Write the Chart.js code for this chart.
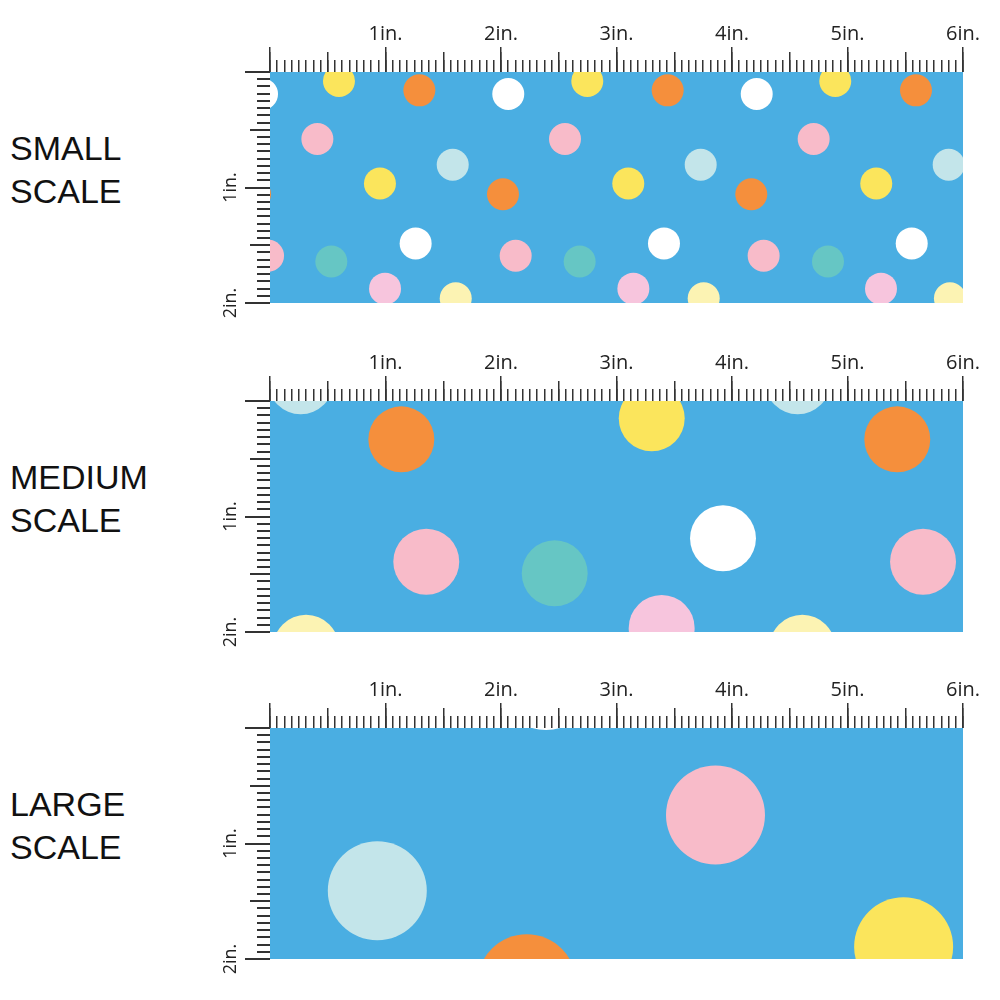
<!DOCTYPE html>
<html>
<head>
<meta charset="utf-8">
<script src="https://cdn.jsdelivr.net/npm/chart.js@4"></script>
<style>
  body { margin: 0; background: #fff; width: 1000px; height: 1000px; position: relative; overflow: hidden; }
  .panel { position: absolute; left: 0; width: 1000px; height: 320px; }
  .name { position: absolute; left: 10px; font-family: "Liberation Sans", Arial, sans-serif; font-size: 34px; line-height: 43px; color: #111; }
</style>
</head>
<body>
<div class="name" style="top:127px">SMALL<br>SCALE</div>
<div class="name" style="top:456px">MEDIUM<br>SCALE</div>
<div class="name" style="top:783px">LARGE<br>SCALE</div>
<div class="panel" style="top:0px"><canvas id="small" width="1000" height="320"></canvas></div>
<div class="panel" style="top:329px"><canvas id="medium" width="1000" height="320"></canvas></div>
<div class="panel" style="top:656px"><canvas id="large" width="1000" height="320"></canvas></div>
<script>
// ruler labels
const topLabels = ['', '1in.', '2in.', '3in.', '4in.', '5in.', '6in.'];
const sideLabels = ['', '1in.', '2in.'];

// dot positions in inches (x across, y down)
const smallX = [-0.069, 2.063, 4.214, 0.597, 2.747, 4.894, 1.293, 3.443, 5.593,
  0.410, 2.554, 4.707, 1.582, 3.729, 5.876, 0.952, 3.102, 5.249,
  -0.130, 2.017, 4.167, 1.261, 3.411, 5.556, -0.017, 2.127, 4.274,
  0.531, 2.681, 4.831, 0.996, 3.146, 5.290, 1.608, 3.755, 5.887];
const smallY = [0.191, 0.191, 0.191, 0.078, 0.078, 0.078, 0.159, 0.159, 0.159,
  0.580, 0.580, 0.580, 0.803, 0.803, 0.803, 0.965, 0.965, 0.965,
  1.058, 1.058, 1.058, 1.484, 1.484, 1.484, 1.591, 1.591, 1.591,
  1.641, 1.641, 1.641, 1.876, 1.876, 1.876, 1.959, 1.959, 1.959];
const smallColor = ['white', 'white', 'white', 'yellow', 'yellow', 'yellow', 'orange', 'orange', 'orange',
  'pink', 'pink', 'pink', 'lightBlue', 'lightBlue', 'lightBlue', 'yellow', 'yellow', 'yellow',
  'orange', 'orange', 'orange', 'white', 'white', 'white', 'pink', 'pink', 'pink',
  'teal', 'teal', 'teal', 'lightPink', 'lightPink', 'lightPink', 'paleYellow', 'paleYellow', 'paleYellow'];

const mediumX = [0.266, 4.569, 1.137, 5.431, 3.305, 3.922, 1.353, 5.654, 2.465, 3.391, 0.312, 4.609];
const mediumY = [-0.171, -0.171, 0.332, 0.332, 0.150, 1.189, 1.391, 1.391, 1.492, 1.965, 2.136, 2.136];
const mediumColor = ['lightBlue', 'lightBlue', 'orange', 'orange', 'yellow', 'white', 'pink', 'pink', 'teal', 'lightPink', 'paleYellow', 'paleYellow'];

const largeX = [2.390, 3.857, 0.929, 5.486, 2.223];
const largeY = [-0.411, 0.753, 1.409, 1.894, 2.215];
const largeColor = ['white', 'pink', 'lightBlue', 'yellow', 'orange'];

const palette = {
  white: '#ffffff', yellow: '#fbe55c', orange: '#f58f3c', pink: '#f8bbc9',
  lightBlue: '#c3e5ea', teal: '#66c6c4', lightPink: '#f7c5dd', paleYellow: '#fcf3b3'
};
const fabricBlue = '#4aaee2';
const tickColor = '#333';

const fabric = {
  id: 'fabric',
  beforeDraw(chart) {
    const a = chart.chartArea, c = chart.ctx;
    c.save();
    c.fillStyle = fabricBlue;
    c.fillRect(a.left, a.top, a.right - a.left, a.bottom - a.top);
    c.restore();
  }
};

function ruler(horizontal, step, len, weight, size, labels) {
  const s = {
    type: 'linear',
    position: horizontal ? 'top' : 'left',
    min: 0,
    max: horizontal ? 6 : 2,
    reverse: !horizontal,
    weight: weight,
    border: { display: false },
    grid: { drawOnChartArea: false, tickLength: len, color: tickColor, lineWidth: horizontal ? 1.5 : 2 },
    ticks: { stepSize: step, autoSkip: false, display: false },
    afterFit(sc) {
      if (horizontal) sc.height = size; else sc.width = size;
      sc.paddingLeft = 0; sc.paddingRight = 0; sc.paddingTop = 0; sc.paddingBottom = 0;
    }
  };
  if (labels) {
    s.ticks = {
      stepSize: step, autoSkip: false, display: true, color: '#222',
      font: { family: 'Open Sans', size: horizontal ? 20 : 18 },
      padding: horizontal ? 1 : -1,
      callback: v => labels[Math.round(v)]
    };
    if (!horizontal) {
      s.ticks.minRotation = 90;
      s.ticks.maxRotation = 90;
      s.ticks.crossAlign = 'center';
    }
  }
  return s;
}

function makePanel(id, xs, ys, cols, dotSize) {
  new Chart(document.getElementById(id), {
    type: 'scatter',
    data: {
      datasets: [{
        data: xs.map((x, i) => ({ x: x, y: ys[i] })),
        showLine: false,
        pointBackgroundColor: cols.map(c => palette[c]),
        pointBorderWidth: 0,
        clip: 0,
        // dot diameter is given in inches, turned into pixels through the x scale
        pointRadius: ctx => {
          const sx = ctx.chart.scales.x;
          return Math.abs(sx.getPixelForValue(dotSize / 2) - sx.getPixelForValue(0));
        }
      }]
    },
    options: {
      responsive: false,
      animation: false,
      events: [],
      layout: { padding: { left: 200, right: 37, top: 0, bottom: 17 } },
      plugins: { legend: { display: false }, tooltip: { enabled: false } },
      scales: {
        x: ruler(true, 1 / 16, 12, 0, 0),
        xHalf: ruler(true, 0.5, 20, 1, 0),
        xInch: ruler(true, 1, 25, 2, 72, topLabels),
        y: ruler(false, 1 / 16, 13, 0, 0),
        yHalf: ruler(false, 0.5, 20, 1, 0),
        yInch: ruler(false, 1, 25, 2, 70, sideLabels)
      }
    },
    plugins: [fabric]
  });
}

makePanel('small', smallX, smallY, smallColor, 0.277);
makePanel('medium', mediumX, mediumY, mediumColor, 0.571);
makePanel('large', largeX, largeY, largeColor, 0.857);
</script>
</body>
</html>
